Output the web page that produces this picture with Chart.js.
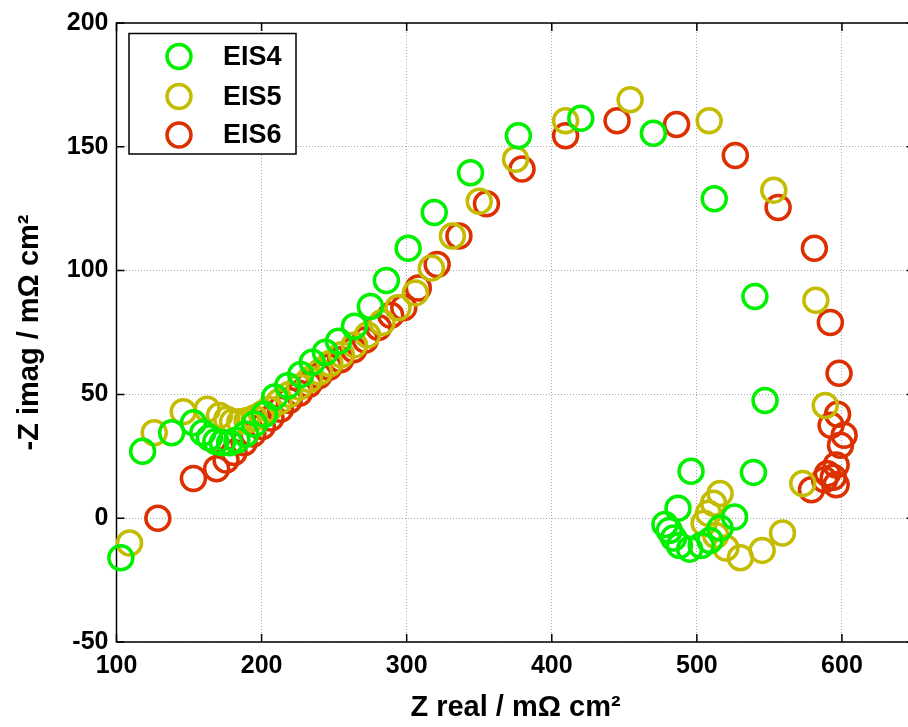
<!DOCTYPE html>
<html>
<head>
<meta charset="utf-8">
<script src="https://cdn.jsdelivr.net/npm/chart.js@4.4.1/dist/chart.umd.min.js"></script>
<style>
  html, body { margin: 0; padding: 0; background: #fff; overflow: hidden; }
  #wrap { width: 930px; height: 727px; }
</style>
</head>
<body>
<div id="wrap"><canvas id="nyquist" width="930" height="727"></canvas></div>
<script>
// Nyquist data (Z real, -Z imag in mOhm cm2)
const eis4Real = [103, 118, 138, 153, 159.5, 164, 168.5, 173, 178, 183, 189, 195, 202, 209, 218, 227, 235, 244, 253, 264, 275, 286, 301, 319, 344, 377, 420, 470, 512, 540, 547, 539, 526, 516, 509, 503, 495, 488, 484, 481, 478, 487, 496];
const eis4Imag = [-16, 27, 34.5, 38.5, 34.5, 32.5, 31, 30.5, 30.5, 31.5, 34, 38, 42, 49, 53.5, 58, 63, 67, 71.5, 77.5, 85.5, 96, 109, 123.5, 139.5, 154.5, 161.5, 155.5, 129, 89.5, 47.5, 18.5, 0.5, -4, -9, -11, -12.5, -11, -8, -5, -2.5, 4, 19];

const eis5Real = [109, 126, 146, 162.5, 171, 176, 180, 185, 190, 195, 200, 205, 212, 219, 226, 233, 240, 247, 255, 264, 273, 283, 294, 306, 317, 331.5, 350, 375, 409.5, 454, 508.5, 553, 582, 588.5, 573, 559, 545, 530, 520, 513, 505, 508, 511.5, 516];
const eis5Imag = [-10, 34.5, 43, 44, 41.5, 40, 39, 39, 39.5, 40.5, 42, 44, 47, 50, 53, 56, 59, 62.5, 66, 70, 74, 79, 85, 91, 101, 114, 128, 145, 160.5, 169, 160.5, 132.5, 88, 45.5, 14, -6, -13, -16, -12, -7, -2, 2, 6, 10];

const eis6Real = [128.5, 153, 169, 175.5, 181, 188, 194, 200.5, 206.5, 213, 219, 226, 232.5, 239.5, 246.5, 254.5, 263.5, 271.5, 280.5, 289, 298, 308, 321, 336, 355, 379.5, 409.5, 445, 486, 526.5, 556, 581, 592, 598, 597, 592.5, 601.5, 599, 596, 590, 594, 588, 596, 579];
const eis6Imag = [0, 16, 20, 23.5, 26.5, 30.5, 34, 37, 40.5, 44, 47.5, 50.5, 54, 57.5, 61, 64, 68, 72, 77, 82, 85, 93, 102.5, 114, 127, 141, 154.5, 160.5, 159, 146.5, 125.5, 109, 79, 58.5, 42, 37.5, 33.5, 29.5, 21.5, 18, 16.5, 15.5, 13.5, 11.5];

const seriesNames = ['EIS4', 'EIS5', 'EIS6'];
const seriesColors = ['#00f000', '#c4bc00', '#dc3000'];

const xTicks = [100, 200, 300, 400, 500, 600];
const yTicks = [-50, 0, 50, 100, 150, 200];

const FONT = '"Liberation Sans", Arial, Helvetica, sans-serif';

function pairs(xs, ys) {
  return xs.map((x, i) => ({ x, y: ys[i] }));
}

// axes box with inward tick marks (MATLAB look)
const framePlugin = {
  id: 'frame',
  beforeDatasetsDraw(chart) {
    const { ctx, chartArea: a, scales } = chart;
    ctx.save();
    ctx.strokeStyle = '#000';
    ctx.lineWidth = 1.5;
    ctx.strokeRect(a.left, a.top, a.right - a.left, a.bottom - a.top);
    ctx.beginPath();
    xTicks.forEach((v) => {
      const px = scales.x.getPixelForValue(v);
      ctx.moveTo(px, a.bottom); ctx.lineTo(px, a.bottom - 8);
      ctx.moveTo(px, a.top); ctx.lineTo(px, a.top + 8);
    });
    yTicks.forEach((v) => {
      const py = scales.y.getPixelForValue(v);
      ctx.moveTo(a.left, py); ctx.lineTo(a.left + 8, py);
      ctx.moveTo(a.right, py); ctx.lineTo(a.right - 8, py);
    });
    ctx.stroke();
    ctx.restore();
  },
};

// legend box in upper-left corner of the axes
const legendPlugin = {
  id: 'innerLegend',
  afterDatasetsDraw(chart) {
    const { ctx } = chart;
    const box = { x: 129, y: 33.5, w: 167, h: 120.5 };
    ctx.save();
    ctx.fillStyle = '#fff';
    ctx.fillRect(box.x, box.y, box.w, box.h);
    ctx.strokeStyle = '#000';
    ctx.lineWidth = 1.5;
    ctx.strokeRect(box.x, box.y, box.w, box.h);
    const rows = [56.5, 96.5, 135];
    seriesNames.forEach((name, i) => {
      ctx.beginPath();
      ctx.arc(179, rows[i], 12, 0, Math.PI * 2);
      ctx.strokeStyle = seriesColors[i];
      ctx.lineWidth = 3.5;
      ctx.stroke();
      ctx.fillStyle = '#000';
      ctx.font = 'bold 27px ' + FONT;
      ctx.textBaseline = 'middle';
      ctx.textAlign = 'left';
      ctx.fillText(name, 223, rows[i] + 1);
    });
    ctx.restore();
  },
};

const datasets = [
  pairs(eis4Real, eis4Imag),
  pairs(eis5Real, eis5Imag),
  pairs(eis6Real, eis6Imag),
].map((data, i) => ({
  label: seriesNames[i],
  data,
  showLine: false,
  clip: false,
  pointStyle: 'circle',
  pointRadius: 12,
  pointHoverRadius: 12,
  pointBorderWidth: 3.5,
  pointBackgroundColor: 'rgba(0,0,0,0)',
  pointBorderColor: seriesColors[i],
  borderColor: seriesColors[i],
}));

const gridStyle = {
  color: '#aaaaaa',
  lineWidth: 1,
  drawTicks: false,
};

new Chart(document.getElementById('nyquist'), {
  type: 'scatter',
  data: { datasets },
  options: {
    responsive: false,
    animation: false,
    events: [],
    layout: { padding: { top: 22, right: 10.5, bottom: 0, left: 0 } },
    plugins: { legend: { display: false }, tooltip: { enabled: false } },
    scales: {
      x: {
        type: 'linear',
        min: 100,
        max: 650,
        afterBuildTicks: (s) => { s.ticks = xTicks.map((v) => ({ value: v })); },
        afterFit: (s) => { s.height = 85; },
        grid: gridStyle,
        border: { display: false, dash: [1, 2] },
        ticks: { color: '#000', padding: 9, font: { family: FONT, size: 25, weight: 'bold' } },
        title: {
          display: true,
          text: 'Z real / mΩ cm²',
          color: '#000',
          padding: { top: 0, bottom: 1.5 },
          font: { family: FONT, size: 29, weight: 'bold' },
        },
      },
      y: {
        type: 'linear',
        min: -50,
        max: 200,
        afterBuildTicks: (s) => { s.ticks = yTicks.map((v) => ({ value: v })); },
        afterFit: (s) => { s.width = 116.5; },
        grid: gridStyle,
        border: { display: false, dash: [1, 2] },
        ticks: { color: '#000', padding: 8, font: { family: FONT, size: 25, weight: 'bold' } },
        title: {
          display: true,
          text: '-Z imag / mΩ cm²',
          color: '#000',
          padding: { top: 12.5, bottom: 0 },
          font: { family: FONT, size: 29, weight: 'bold' },
        },
      },
    },
  },
  plugins: [framePlugin, legendPlugin],
});
</script>
</body>
</html>
